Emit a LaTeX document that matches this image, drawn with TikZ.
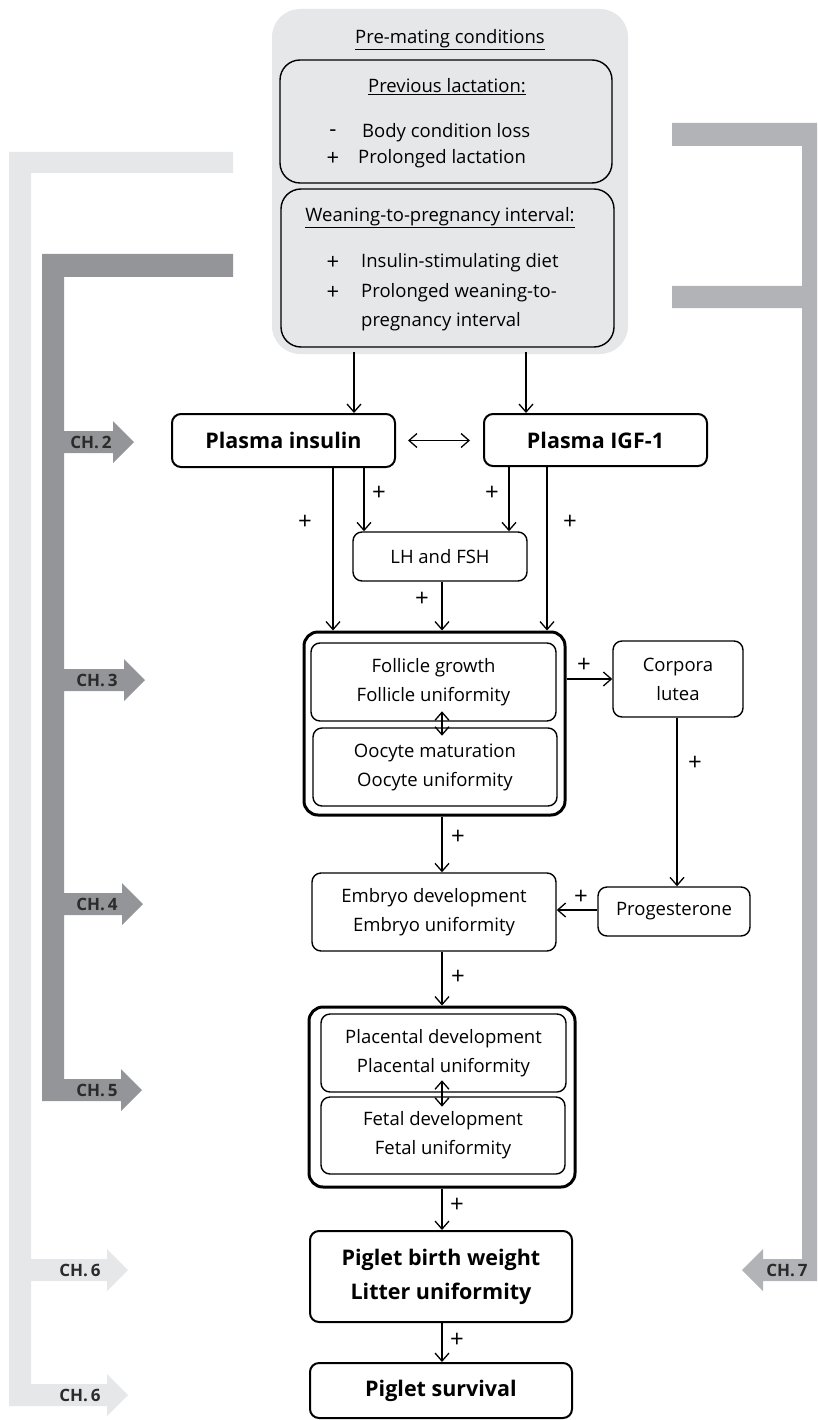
\documentclass[tikz,border=0pt]{standalone}
\usepackage{fontspec}
\setmainfont{Open Sans}
\usetikzlibrary{arrows.meta}
\definecolor{lightbar}{HTML}{E6E7E8}
\definecolor{darkbar}{HTML}{939598}
\definecolor{midbar}{HTML}{B1B3B6}
\definecolor{chtext}{HTML}{2B2B2B}
\definecolor{pmfill}{HTML}{E6E7E8}
\begin{document}
\begin{tikzpicture}[x=1pt,y=-1pt,
  txt/.style={font=\fontsize{18.5}{22}\selectfont, inner sep=0pt},
  btxt/.style={font=\fontsize{21.5}{26}\selectfont\bfseries, inner sep=0pt},
  chlabel/.style={font=\fontsize{17}{20}\selectfont\bfseries, text=chtext, inner sep=0pt},
  plus/.style={font=\fontsize{24}{26}\selectfont, inner sep=0pt},
  sign/.style={font=\fontsize{22}{24}\selectfont, inner sep=0pt},
  box/.style={draw, rounded corners=9pt, line width=1.4pt, inner sep=0pt, align=center,
    font=\fontsize{18.5}{29}\selectfont},
  boldbox/.style={box, line width=2pt, font=\fontsize{21.5}{34}\selectfont\bfseries},
  outerbox/.style={draw, rounded corners=14pt, line width=3pt, inner sep=0pt},
  graybox/.style={draw, fill=pmfill, rounded corners=20pt, line width=1.4pt, inner sep=0pt},
  conn/.style={line width=1.3pt, -{Straight Barb[length=8pt,width=14pt,line width=1.3pt]}},
  dconn/.style={line width=1.3pt, {Straight Barb[length=8pt,width=14pt,line width=1.3pt]}-{Straight Barb[length=8pt,width=14pt,line width=1.3pt]}},
]
\useasboundingbox (0,0) rectangle (817,1420);

% ---- chapter brackets ----
\fill[lightbar] (9,152) -- (233,152) -- (233,173) -- (31,173) -- (31,1259) -- (107,1259) -- (107,1249)
  -- (128,1270) -- (107,1291) -- (107,1281) -- (31,1281) -- (31,1384) -- (107,1384) -- (107,1374)
  -- (128,1395) -- (107,1416) -- (107,1406) -- (9,1406) -- cycle;
\fill[darkbar] (42,254) -- (233,254) -- (233,277) -- (64,277) -- (64,431) -- (113,431) -- (113,421)
  -- (134,442) -- (113,463) -- (113,453) -- (64,453) -- (64,669) -- (124,669) -- (124,659)
  -- (145,680) -- (124,701) -- (124,691) -- (64,691) -- (64,893) -- (122,893) -- (122,883)
  -- (143,904) -- (122,925) -- (122,915) -- (64,915) -- (64,1079) -- (121,1079) -- (121,1069)
  -- (142,1090) -- (121,1111) -- (121,1101) -- (42,1101) -- cycle;
\fill[midbar] (817,123) -- (672,123) -- (672,146) -- (802,146) -- (802,286) -- (672,286) -- (672,308)
  -- (802,308) -- (802,1259) -- (763,1259) -- (763,1249) -- (742,1270) -- (763,1291) -- (763,1281)
  -- (817,1281) -- cycle;

\node[chlabel] (ch2) at (91,442) {CH.\,2};
\node[chlabel] (ch3) at (97,680) {CH.\,3};
\node[chlabel] (ch4) at (97,904) {CH.\,4};
\node[chlabel] (ch5) at (97,1090) {CH.\,5};
\node[chlabel] (ch6a) at (80,1270) {CH.\,6};
\node[chlabel] (ch6b) at (80,1395) {CH.\,6};
\node[chlabel] (ch7) at (787,1270) {CH.\,7};

% ---- pre-mating conditions ----
\node[fill=pmfill, rounded corners=28pt, minimum width=356pt, minimum height=345pt, inner sep=0pt] (pm) at (450,181.5) {};
\node[graybox, minimum width=332pt, minimum height=123pt] (pl) at (446,121.5) {};
\node[graybox, minimum width=333pt, minimum height=158pt] (wp) at (447.5,268) {};
\node[txt] (t0) at (450,40) {\underline{Pre-mating conditions}};
\node[txt] (t1) at (447,87) {\underline{Previous lactation:}};
\node[sign] (s1) at (333,133) {-};
\node[txt, anchor=west] (l1) at (362,133) {Body condition loss};
\node[sign] (s2) at (333,159) {+};
\node[txt, anchor=west] (l2) at (358,159) {Prolonged lactation};
\node[txt] (t2) at (440,218) {\underline{Weaning-to-pregnancy interval:}};
\node[sign] (s3) at (333,263) {+};
\node[txt, anchor=west] (l3) at (361,263) {Insulin-stimulating diet};
\node[sign] (s4) at (333,293) {+};
\node[txt, anchor=west] (l4) at (361,293) {Prolonged weaning-to-};
\node[txt, anchor=west] (l5) at (361,322) {pregnancy interval};

% ---- hormone boxes ----
\node[boldbox, minimum width=223pt, minimum height=53pt] (ins) at (283.5,440.5) {Plasma insulin};
\node[boldbox, minimum width=223pt, minimum height=52pt] (igf) at (595.5,440) {Plasma IGF-1};
\node[box, minimum width=174pt, minimum height=49pt] (lh) at (440,556.5) {LH and FSH};

% ---- follicle / oocyte ----
\node[outerbox, minimum width=261pt, minimum height=183pt] (fol) at (434.5,723.5) {};
\node[box, minimum width=245pt, minimum height=78pt] (f1) at (433.5,682) {Follicle growth\\Follicle uniformity};
\node[box, minimum width=244pt, minimum height=78pt] (f2) at (435,767) {Oocyte maturation\\Oocyte uniformity};
\node[box, minimum width=130pt, minimum height=76pt] (cl) at (678,679) {Corpora\\lutea};

% ---- embryo / progesterone ----
\node[box, minimum width=244pt, minimum height=78pt] (emb) at (434,912) {Embryo development\\Embryo uniformity};
\node[box, minimum width=152pt, minimum height=49pt] (prog) at (674,911.5) {Progesterone};

% ---- placenta / fetus ----
\node[outerbox, minimum width=266pt, minimum height=180pt] (pla) at (442,1097) {};
\node[box, minimum width=245pt, minimum height=78pt] (p1) at (443.5,1053) {Placental development\\Placental uniformity};
\node[box, minimum width=244pt, minimum height=77pt] (p2) at (443,1135.5) {Fetal development\\Fetal uniformity};

% ---- piglets ----
\node[boldbox, minimum width=262pt, minimum height=91pt] (pbw) at (441,1276.5) {Piglet birth weight\\Litter uniformity};
\node[boldbox, minimum width=262pt, minimum height=55pt] (ps) at (441,1390.5) {Piglet survival};

% ---- connector x positions ----
\coordinate (xa) at (354,0);
\coordinate (xb) at (526,0);
\coordinate (xc) at (333,0);
\coordinate (xd) at (364,0);
\coordinate (xe) at (509,0);
\coordinate (xf) at (547,0);
\coordinate (xg) at (442,0);
\coordinate (xh) at (677,0);
\coordinate (ya) at (0,679);
\coordinate (yb) at (0,910);

% ---- connectors ----
\draw[conn] ([yshift=2pt]pm.south -| xa) -- (ins.north -| xa);
\draw[conn] ([yshift=2pt]pm.south -| xb) -- (igf.north -| xb);
\draw[dconn] ([xshift=12pt]ins.east) -- ([xshift=-13pt]igf.west |- ins.east);
\draw[conn] (ins.south -| xc) -- (fol.north -| xc);
\draw[conn] (ins.south -| xd) -- (lh.north -| xd);
\draw[conn] (igf.south -| xe) -- (lh.north -| xe);
\draw[conn] (igf.south -| xf) -- (fol.north -| xf);
\draw[conn] (lh.south -| xg) -- (fol.north -| xg);
\draw[conn] (fol.east |- ya) -- (cl.west |- ya);
\draw[conn] (cl.south -| xh) -- (prog.north -| xh);
\draw[conn] (prog.west |- yb) -- (emb.east |- yb);
\draw[conn] (fol.south -| xg) -- (emb.north -| xg);
\draw[conn] (emb.south -| xg) -- (pla.north -| xg);
\draw[dconn] ([yshift=-14pt]f1.south -| xg) -- ([yshift=16pt]f2.north -| xg);
\draw[dconn] ([yshift=-14pt]p1.south -| xg) -- ([yshift=16pt]p2.north -| xg);
\draw[conn] (pla.south -| xg) -- (pbw.north -| xg);
\draw[conn] (pbw.south -| xg) -- (ps.north -| xg);

% ---- plus labels ----
\node[plus] (pa) at (379,493) {+};
\node[plus] (pb) at (305,522) {+};
\node[plus] (pc) at (492,493) {+};
\node[plus] (pd) at (570,522) {+};
\node[plus] (pe) at (422,599) {+};
\node[plus] (pf) at (584,665) {+};
\node[plus] (pg) at (695,763) {+};
\node[plus] (ph) at (458,837) {+};
\node[plus] (pi) at (581,897) {+};
\node[plus] (pj) at (458,977) {+};
\node[plus] (pk) at (457,1205) {+};
\node[plus] (pl2) at (457,1340) {+};
\end{tikzpicture}
\end{document}
